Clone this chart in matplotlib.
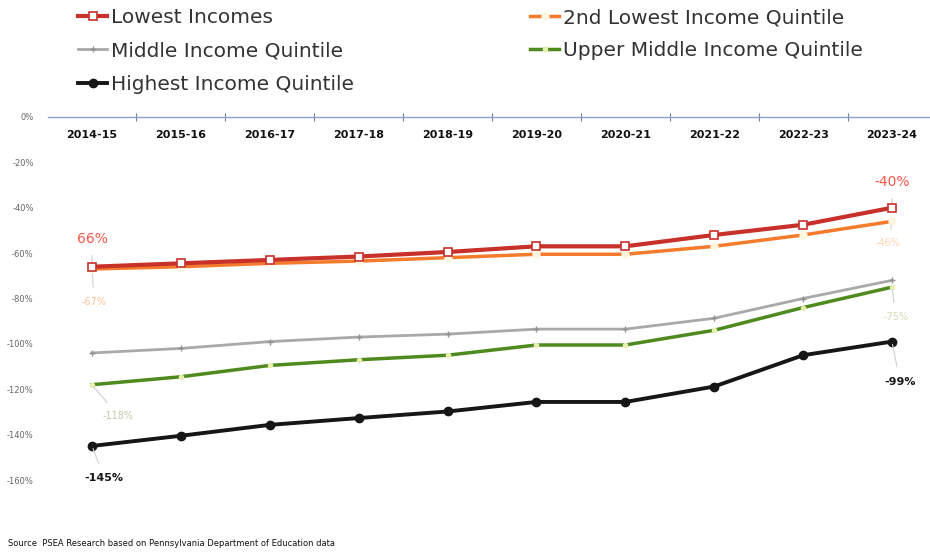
import numpy as np
import matplotlib.pyplot as plt

years = ["2014-15", "2015-16", "2016-17", "2017-18", "2018-19",
         "2019-20", "2020-21", "2021-22", "2022-23", "2023-24"]

lowest = [-66, -64.5, -63, -61.5, -59.5, -57, -57, -52, -47.5, -40]
second = [-67, -66, -64.5, -63.5, -62, -60.5, -60.5, -57, -52, -46]
middle = [-104, -102, -99, -97, -95.7, -93.5, -93.5, -88.7, -80, -72]
upper = [-118, -114.5, -109.5, -107, -105, -100.5, -100.5, -94, -84, -75]
highest = [-145, -140.5, -135.7, -132.7, -129.8, -125.6, -125.6, -118.8, -105, -99]

yticks = [0, -20, -40, -60, -80, -100, -120, -140, -160]

RED = '#c8302a'
ORANGE = '#f47b2c'
GREY = '#a9a9a9'
GREEN = '#4f8a1f'
BLACK = '#161616'

fig = plt.figure(figsize=(9.3, 5.53), dpi=100)
ax = fig.add_axes([47.6/930, 1-480/553, 888.8/930, 363/553])
x = np.arange(len(years))

l1, = ax.plot(x, lowest, color=RED, lw=3, marker='s', ms=6, mfc='white', mec=RED, mew=1.2, zorder=5)
l2, = ax.plot(x, second, color=ORANGE, lw=2.5, marker='o', ms=5, mfc='#fff6e0', mec='#fff6e0', zorder=4)
l3, = ax.plot(x, middle, color=GREY, lw=2, marker='+', ms=4, mec='#909090', zorder=3)
l4, = ax.plot(x, upper, color=GREEN, lw=2.5, marker='o', ms=3, mfc='#e8f0b0', mec='#e8f0b0', zorder=3)
l5, = ax.plot(x, highest, color=BLACK, lw=2.8, marker='o', ms=6, mfc=BLACK, mec=BLACK, zorder=3)

ax.set_xlim(-0.5, 9.5)
ax.set_ylim(-160, 0)
for s in ['top', 'right', 'left']:
  ax.spines[s].set_visible(False)
ax.spines['bottom'].set_position(('data', 0))
ax.spines['bottom'].set_color('#8fa3c8')
ax.spines['bottom'].set_linewidth(1)
ax.set_xticks(x)
ax.set_xticklabels(years, fontsize=8, fontweight='bold', color='#111111')
ax.set_xticks(np.arange(0.5, 9.5, 1), minor=True)
ax.tick_params(axis='x', which='major', length=0, pad=9)
ax.tick_params(axis='x', which='minor', length=6, direction='inout', color='#6f80a0', width=0.8)
ax.set_yticks(yticks)
ax.set_yticklabels([str(v) + '%' for v in yticks], fontsize=6, color='#666666')
ax.tick_params(axis='y', length=0, pad=10)

def lab(i, y, txt, dx, dy, col, bold=False, size=9):
  ax.annotate(txt, xy=(i, y), xytext=(dx, dy), textcoords='offset pixels',
              ha='center', va='center', fontsize=size, color=col,
              fontweight='bold' if bold else 'normal',
              arrowprops=dict(arrowstyle='-', color='#d0d0d0', lw=0.8, shrinkA=5, shrinkB=2))

lab(0, lowest[0], '66%', 0, 28, '#f05a4a', size=10)
lab(9, lowest[9], '-40%', 0, 26, '#f05a4a', size=10)
lab(0, second[0], '-67%', 2, -33, '#f9c49a', size=7)
lab(9, second[9], '-46%', -4, -22, '#f9d8b0', size=7)
lab(0, upper[0], '-118%', 26, -31, '#c2c9a8', size=7)
lab(9, upper[9], '-75%', 4, -30, '#d4dcb4', size=7)
lab(0, highest[0], '-145%', 12, -32, BLACK, bold=True, size=8)
lab(9, highest[9], '-99%', 8, -40, BLACK, bold=True, size=8)

leg_kw = dict(frameon=False, loc='upper left', borderpad=0, borderaxespad=0,
              handlelength=1.45, handletextpad=0.2, labelspacing=0.72, labelcolor='#333333',
              prop={'family': 'DejaVu Sans', 'size': 14.5})
fig.legend([l1, l3, l5], ["Lowest Incomes", "Middle Income Quintile", "Highest Income Quintile"],
           bbox_to_anchor=(78/930, 1-8/553), **leg_kw)
fig.legend([l2, l4], ["2nd Lowest Income Quintile", "Upper Middle Income Quintile"],
           bbox_to_anchor=(530/930, 1-8/553), **leg_kw)

fig.text(8/930, 1-543/553, "Source  PSEA Research based on Pennsylvania Department of Education data",
         fontsize=6, color='#111111', va='center')

fig.savefig('out.png', dpi=100)
